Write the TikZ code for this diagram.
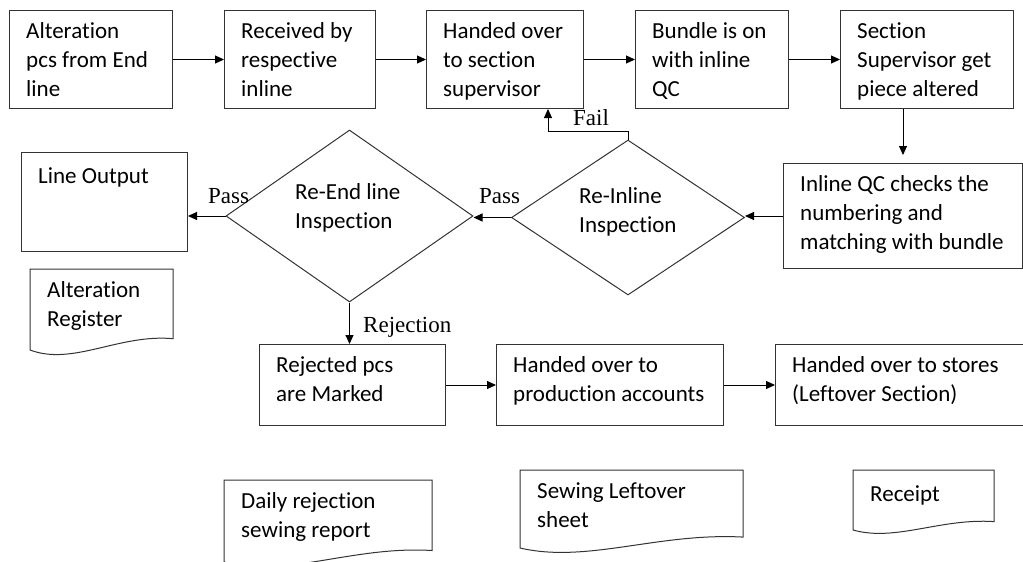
\documentclass[tikz,border=0pt]{standalone}
\usepackage{fontspec}
\setmainfont{Carlito}[Ligatures=NoCommon]
\newfontfamily\labelfont{Liberation Serif}
\usetikzlibrary{arrows.meta,shapes.geometric}

\begin{document}
\begin{tikzpicture}[x=1pt, y=-1pt,
	box/.style={draw=black!80, line width=1pt, anchor=north west, inner sep=0pt},
	docline/.style={draw=black!80, line width=1pt},
	decision/.style={draw=black!80, line width=1pt, shape=diamond, inner sep=0pt},
	txt/.style={anchor=north west, align=left, inner sep=0pt, font=\fontsize{23}{29}\selectfont, execute at begin node={\rule{0pt}{19pt}}},
	inbox/.style={txt, xshift=17pt, yshift=-12pt},
	lbl/.style={anchor=base west, inner sep=0pt, font=\labelfont\fontsize{23}{27}\selectfont},
	arr/.style={-{Triangle[length=9pt,width=8pt]}, line width=1pt}]
	\useasboundingbox (0,0) rectangle (1023,562);
	% top row
	\foreach \name/\x/\w/\txt in {alter/9/163/{Alteration\\pcs from End\\line}, recv/224/151/{Received by\\respective\\inline}, hand/426/157/{Handed over\\to section\\supervisor}, bundle/635/153/{Bundle is on\\with inline\\QC}, super/840/173/{Section\\Supervisor get\\piece altered}}{
		\node[box, minimum width=\w, minimum height=98] (\name) at (\x,10) {};
		\node[inbox] (\name-t) at (\name.north west) {\txt};}
	\foreach \a/\b in {alter/recv, recv/hand, hand/bundle, bundle/super}
		\draw[arr] (\a) -- (\b);
	% checking by inline QC
	\node[box, minimum width=239, minimum height=105] (qc) at (783,163) {};
	\node[inbox] (qc-t) at (qc.north west) {Inline QC checks the\\numbering and\\matching with bundle};
	\draw[arr, shorten >=8pt] (super.south -| qc.north) -- (qc.north);
	% inspections
	\node[decision, minimum width=233, minimum height=155] (reinline) at (628,217.5) {};
	\node[txt] (reinline-t) at ([xshift=-49pt, yshift=30.5pt]reinline.center) {Re-Inline\\Inspection};
	\node[decision, minimum width=247, minimum height=172] (reend) at (349.5,216) {};
	\node[txt] (reend-t) at ([xshift=-54.5pt, yshift=33pt]reend.center) {Re-End line\\Inspection};
	\node[box, minimum width=166, minimum height=99] (lineout) at (21,152) {};
	\node[inbox] (lineout-t) at (lineout.north west) {Line Output};
	\draw[arr] (qc.west) -- (qc.west -| reinline.east);
	\draw[arr] (reinline.west) -- (reinline.west -| reend.east);
	\draw[arr] (reend.west) -- (reend.west -| lineout.east);
	\draw[arr] (reinline.north) -- ++(0,-8) -| ([xshift=43pt]hand.south);
	\node[lbl] (fail) at (573,125) {Fail};
	\node[lbl] (pass-a) at (479,203) {Pass};
	\node[lbl] (pass-b) at (208,203) {Pass};
	\node[lbl] (rejection) at (363,332) {Rejection};
	% rejected pieces
	\foreach \name/\x/\w/\txt in {rej/259/186/{Rejected pcs\\are Marked}, prod/496/227/{Handed over to\\production accounts}, stores/775/254/{Handed over to stores\\(Leftover Section)}}{
		\node[box, minimum width=\w, minimum height=81] (\name) at (\x,344) {};
		\node[inbox] (\name-t) at (\name.north west) {\txt};}
	\draw[arr] (reend.south) -- (reend.south |- rej.north);
	\draw[arr] (rej) -- (prod);
	\draw[arr] (prod) -- (stores);
	% documents
	\foreach \name/\x/\y/\w/\h/\txt in {areg/30/269/143/81/{Alteration\\Register}, daily/224/480/208/82/{Daily rejection\\sewing report}, leftover/520/470/223/78/{Sewing Leftover\\sheet}, receipt/853/470/141/60/{Receipt}}{
		\draw[docline] (\x,\y) coordinate (\name) -- (\x+\w,\y) -- (\x+\w,\y+0.86*\h) .. controls (\x+0.62*\w,\y+0.8*\h) and (\x+0.3*\w,\y+1.2*\h) .. (\x,\y+\h) -- cycle;
		\node[inbox] (\name-t) at (\name) {\txt};}
\end{tikzpicture}
\end{document}
